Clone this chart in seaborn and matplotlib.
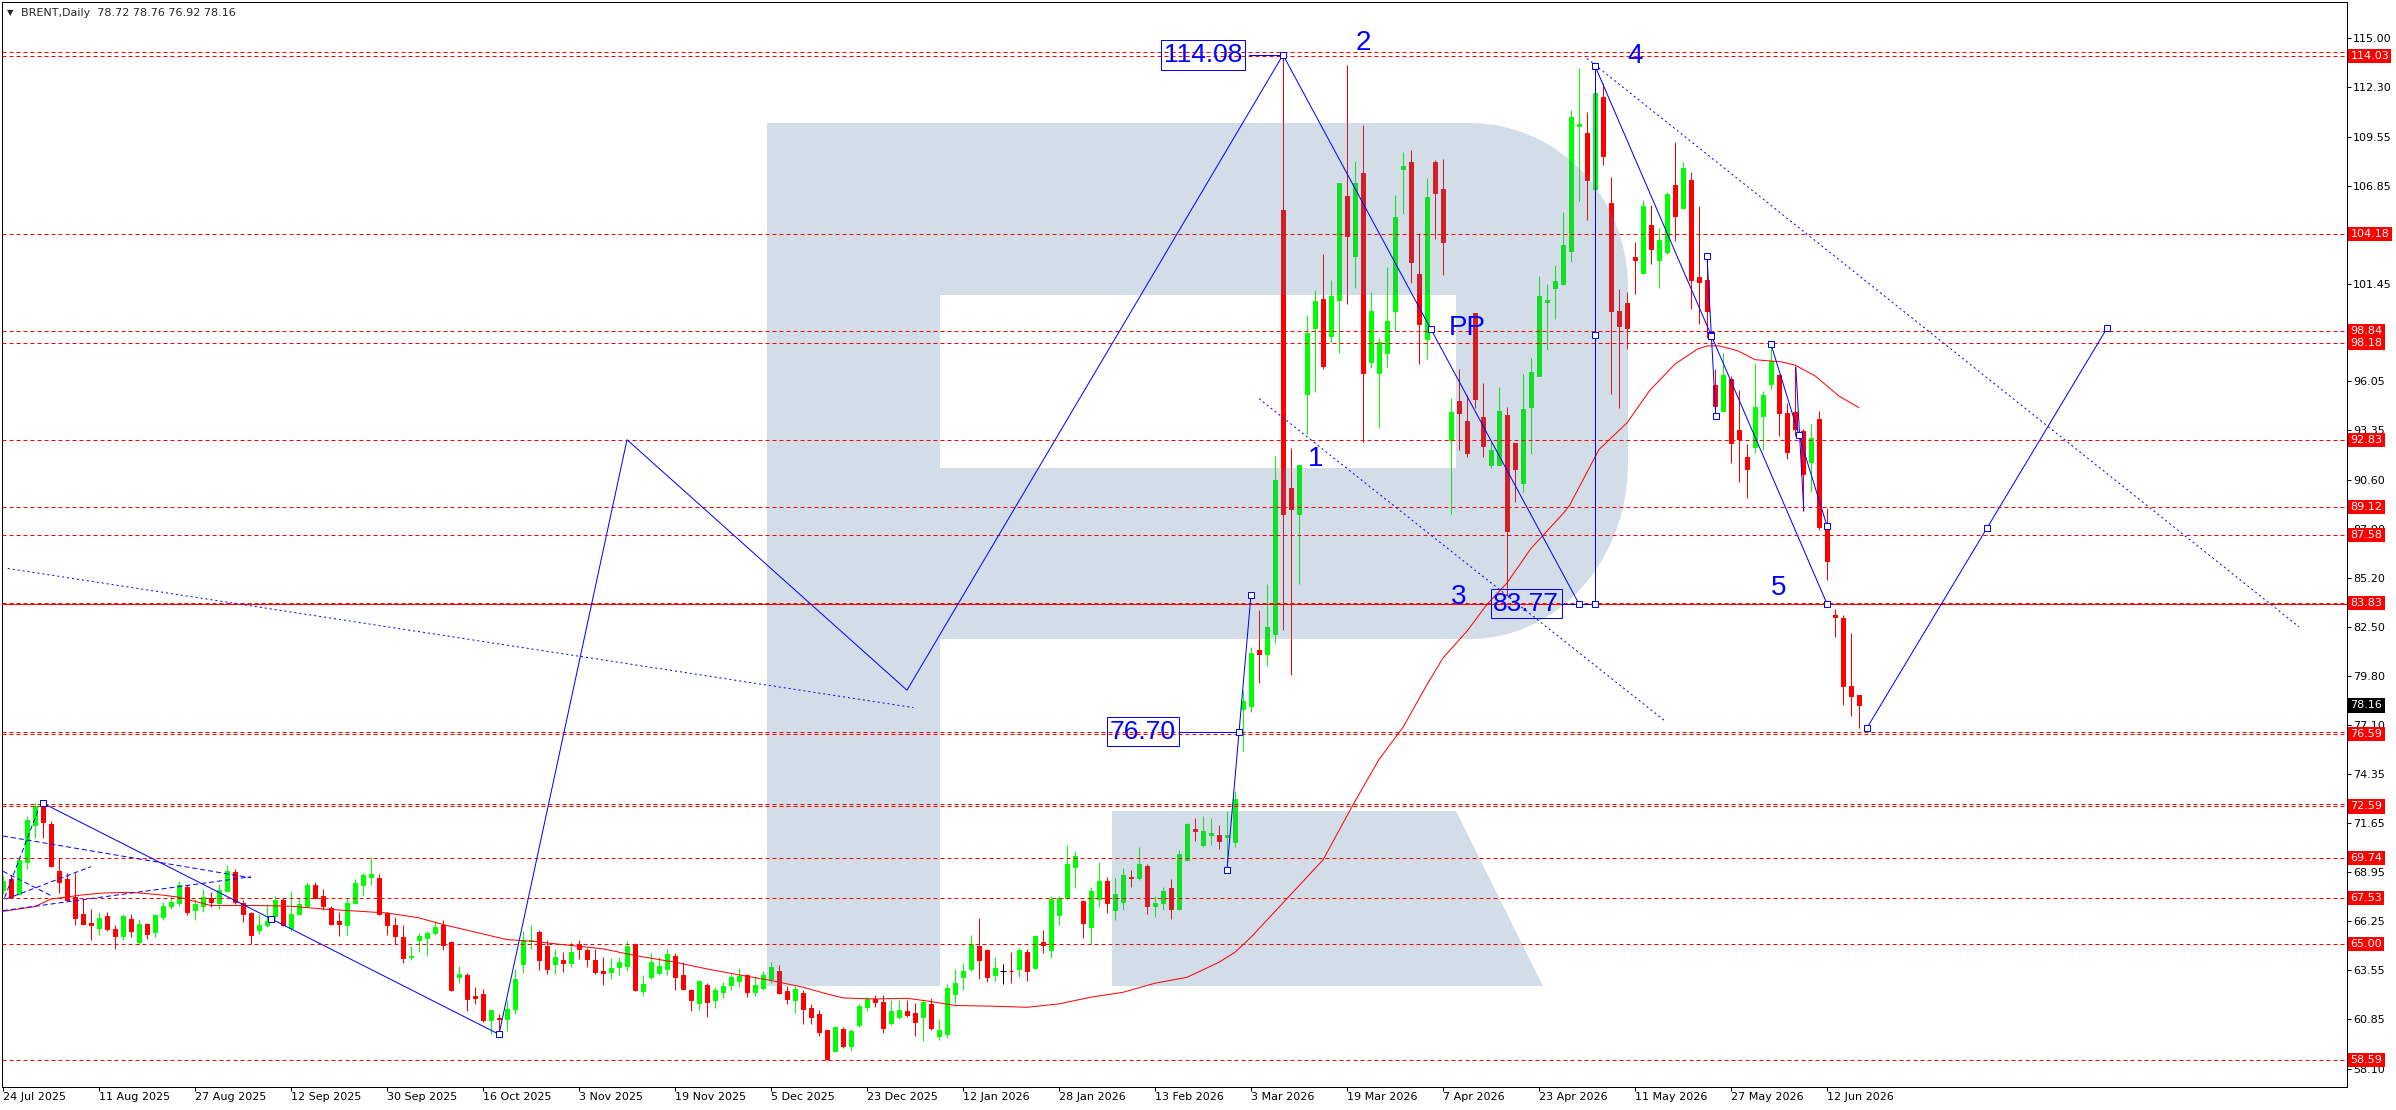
import matplotlib
matplotlib.use("Agg")
import matplotlib.pyplot as plt
import matplotlib.transforms as mtransforms
from matplotlib.path import Path
from matplotlib.patches import PathPatch
import numpy as np
import pandas as pd
import seaborn as sns

# ---- daily OHLC, bar 0 = 24 Jul 2025 ----
opens = [
    67.98, 68.55, 67.76, 69.51, 71.53, 72.73, 71.62, 68.99, 68.59, 67.57,
    66.65, 66.14, 65.88, 66.51, 65.82, 65.42, 66.37, 65.09, 66.10, 65.64,
    66.47, 67.08, 67.24, 68.16, 66.84, 67.06, 67.52, 67.24, 67.94, 68.94,
    67.26, 66.69, 65.77, 66.05, 66.51, 67.43, 65.86, 66.62, 67.11, 68.27,
    67.61, 66.97, 66.28, 66.01, 67.26, 68.22, 68.71, 68.62, 66.69, 66.06,
    65.40, 64.26, 65.18, 65.33, 65.58, 66.06, 65.09, 63.16, 63.25, 62.09,
    62.24, 60.80, 60.91, 60.85, 61.39, 63.89, 65.14, 65.64, 64.85, 63.89,
    64.11, 63.93, 64.96, 64.67, 64.11, 63.47, 63.43, 63.71, 63.76, 65.00,
    62.38, 63.16, 63.37, 63.62, 64.35, 63.25, 62.47, 61.74, 62.70, 61.90,
    62.33, 62.70, 62.94, 63.25, 62.33, 62.55, 63.06, 63.52, 62.38, 61.90,
    62.27, 61.44, 61.13, 60.21, 59.10, 60.32, 59.38, 60.49, 61.50, 61.96,
    61.78, 60.62, 60.98, 61.26, 61.17, 60.98, 61.65, 59.93, 60.03, 62.20,
    63.19, 63.58, 64.90, 64.63, 63.25, 63.47, 63.52, 63.58, 64.54, 63.67,
    65.09, 64.68, 66.56, 67.54, 69.23, 67.35, 65.92, 67.48, 68.44, 66.84,
    67.30, 68.68, 68.64, 69.27, 67.08, 67.24, 68.07, 66.91, 69.63, 71.35,
    70.48, 71.03, 71.03, 70.92, 70.61, 77.98, 78.13, 81.23, 80.99, 82.11,
    105.51, 90.17, 88.75, 95.33, 99.02, 100.58, 98.54, 100.55, 106.30, 102.97,
    107.57, 97.13, 96.54, 97.60, 99.96, 107.78, 108.16, 101.97, 98.37, 108.16,
    106.69, 92.82, 94.95, 93.85, 99.81, 94.06, 91.46, 91.46, 94.21, 92.64,
    90.46, 94.65, 96.33, 100.46, 101.20, 101.44, 103.26, 110.14, 109.75, 106.66,
    111.76, 105.92, 99.96, 100.40, 102.91, 102.03, 104.68, 102.76, 103.20, 106.89,
    105.65, 107.19, 101.79, 101.64, 95.83, 94.44, 96.21, 93.38, 91.85, 92.44,
    94.15, 95.89, 96.42, 94.30, 94.35, 93.32, 91.61, 93.97, 88.01, 83.15,
    83.00, 79.22, 78.72,
]
highs = [
    68.77, 68.77, 69.78, 72.08, 72.76, 72.76, 71.77, 69.74, 68.90, 68.90,
    67.46, 66.93, 66.75, 66.75, 66.05, 66.62, 66.62, 66.37, 66.14, 66.65,
    67.30, 67.61, 68.49, 68.22, 67.48, 68.03, 67.85, 68.31, 69.36, 69.12,
    67.39, 66.75, 66.65, 67.21, 67.61, 67.52, 67.89, 67.54, 68.40, 68.40,
    68.03, 67.11, 66.75, 67.54, 68.59, 68.90, 69.78, 68.86, 66.78, 66.47,
    66.05, 64.90, 65.57, 65.69, 66.25, 66.32, 65.13, 63.75, 63.39, 62.60,
    62.51, 61.32, 61.13, 61.87, 63.58, 65.73, 66.01, 65.77, 65.18, 64.72,
    64.54, 65.09, 65.18, 64.78, 64.72, 64.26, 64.22, 64.26, 65.13, 65.03,
    63.25, 64.50, 64.26, 64.72, 64.48, 63.98, 62.51, 63.01, 62.83, 62.60,
    62.88, 63.34, 63.67, 63.34, 63.16, 63.52, 63.98, 63.80, 62.64, 62.64,
    62.45, 61.65, 61.32, 60.25, 60.43, 60.43, 60.30, 61.65, 62.05, 62.18,
    62.18, 61.87, 61.87, 61.90, 61.72, 61.87, 62.01, 60.85, 62.79, 63.62,
    63.93, 65.49, 66.41, 64.72, 64.26, 63.89, 64.54, 64.78, 64.72, 65.49,
    65.77, 67.61, 67.61, 70.48, 70.11, 67.39, 68.13, 69.54, 68.71, 68.64,
    69.17, 69.08, 70.33, 69.41, 67.61, 68.13, 68.59, 70.20, 71.66, 71.93,
    72.08, 71.93, 71.53, 72.32, 73.46, 79.01, 81.38, 83.44, 84.86, 91.94,
    114.08, 92.38, 91.46, 99.72, 101.08, 103.06, 101.64, 106.98, 113.53, 108.22,
    110.22, 100.99, 98.43, 102.38, 106.36, 108.72, 108.81, 104.24, 107.28, 108.28,
    108.31, 95.15, 96.72, 95.30, 99.81, 95.98, 92.73, 95.74, 94.65, 92.64,
    96.48, 97.36, 101.85, 101.44, 102.47, 105.42, 111.02, 113.38, 110.93, 113.47,
    112.50, 107.34, 101.14, 100.99, 103.73, 106.09, 105.77, 104.53, 106.51, 109.25,
    108.16, 107.63, 105.71, 102.97, 96.72, 97.60, 96.36, 95.59, 92.59, 97.07,
    95.53, 98.04, 96.48, 94.86, 96.86, 93.41, 93.68, 94.41, 89.05, 83.50,
    83.15, 82.17, 78.76,
]
lows = [
    67.76, 67.54, 67.76, 69.14, 70.85, 70.85, 69.23, 67.79, 67.39, 66.05,
    66.01, 65.22, 65.49, 65.69, 64.72, 65.18, 65.37, 64.94, 65.27, 65.37,
    66.32, 66.91, 67.11, 66.56, 66.32, 66.75, 67.02, 66.93, 67.89, 67.21,
    66.19, 64.96, 65.55, 65.92, 66.36, 65.97, 65.73, 66.56, 67.02, 67.48,
    66.84, 66.01, 65.42, 65.51, 67.21, 67.61, 68.22, 66.60, 65.51, 65.00,
    63.95, 64.08, 64.57, 64.35, 65.51, 64.67, 62.38, 62.83, 61.28, 61.68,
    60.67, 59.99, 60.03, 60.17, 61.13, 63.37, 64.72, 63.56, 63.34, 63.34,
    63.43, 63.71, 64.17, 63.71, 63.34, 62.70, 63.06, 63.25, 63.49, 62.38,
    62.14, 63.06, 63.25, 63.25, 62.47, 62.42, 61.28, 61.35, 60.94, 61.46,
    61.99, 62.45, 62.60, 62.05, 62.11, 62.42, 62.83, 62.20, 61.65, 61.17,
    60.58, 60.58, 59.93, 58.59, 59.05, 59.25, 59.07, 60.39, 61.28, 61.50,
    60.06, 60.54, 60.85, 60.94, 59.88, 59.62, 60.25, 59.70, 59.81, 61.65,
    62.42, 63.49, 63.06, 62.88, 62.94, 62.75, 62.83, 63.16, 62.97, 63.62,
    64.48, 64.21, 66.06, 67.43, 68.09, 65.33, 65.00, 67.02, 66.69, 66.32,
    66.84, 68.13, 68.53, 66.62, 66.47, 66.84, 66.34, 66.87, 69.56, 70.65,
    70.33, 70.43, 70.24, 69.15, 70.33, 75.62, 77.78, 79.37, 80.34, 81.61,
    82.32, 79.84, 84.86, 93.12, 95.47, 96.72, 98.25, 97.60, 100.34, 101.23,
    92.73, 96.77, 93.47, 96.86, 98.84, 105.27, 101.49, 97.01, 97.30, 103.91,
    101.91, 88.75, 92.29, 91.85, 94.59, 91.85, 91.26, 91.46, 84.18, 89.40,
    89.93, 92.05, 96.33, 97.81, 99.49, 101.38, 102.67, 106.01, 104.97, 106.66,
    107.98, 95.33, 94.59, 97.84, 100.85, 102.03, 102.53, 101.20, 103.06, 103.79,
    105.62, 100.05, 99.22, 98.43, 94.12, 94.44, 91.55, 90.52, 89.64, 92.08,
    92.29, 95.62, 93.03, 91.76, 93.03, 88.90, 89.93, 87.87, 85.06, 81.91,
    78.19, 77.60, 76.92,
]
closes = [
    68.49, 67.57, 69.65, 71.84, 72.63, 71.71, 69.32, 68.40, 67.43, 66.43,
    66.10, 66.05, 66.43, 65.82, 65.42, 66.51, 65.69, 66.10, 65.55, 66.56,
    67.11, 67.33, 68.22, 66.73, 67.21, 67.57, 67.30, 67.98, 68.99, 67.33,
    66.65, 65.49, 66.06, 66.28, 67.39, 66.01, 66.62, 67.21, 68.22, 67.54,
    67.11, 66.10, 66.10, 67.26, 68.37, 68.81, 68.86, 66.65, 66.06, 65.42,
    64.21, 64.35, 65.44, 65.58, 65.95, 64.94, 62.45, 63.34, 61.96, 61.99,
    60.80, 61.32, 60.85, 61.41, 63.03, 65.22, 65.22, 64.11, 63.62, 64.26,
    63.93, 64.54, 64.72, 64.17, 63.43, 63.41, 63.67, 63.97, 64.90, 62.42,
    62.75, 63.97, 63.75, 64.44, 63.19, 62.49, 61.90, 62.94, 61.78, 62.42,
    62.64, 63.16, 63.21, 62.33, 62.70, 63.25, 63.71, 62.27, 61.96, 62.49,
    61.41, 60.98, 60.12, 58.61, 60.39, 59.38, 60.16, 61.54, 61.96, 61.78,
    60.34, 61.28, 61.32, 61.04, 60.67, 61.78, 60.34, 60.21, 62.57, 62.83,
    63.52, 65.00, 64.08, 63.16, 63.67, 63.47, 63.49, 64.67, 63.49, 65.42,
    64.94, 67.46, 67.54, 69.38, 69.82, 66.14, 67.94, 68.44, 67.24, 67.72,
    68.77, 68.62, 69.41, 67.11, 67.24, 67.94, 66.91, 69.97, 71.59, 71.22,
    71.20, 71.14, 70.70, 70.99, 73.00, 78.43, 81.08, 81.02, 82.47, 90.58,
    88.75, 88.99, 91.46, 98.72, 100.49, 96.92, 100.79, 106.98, 104.09, 106.98,
    96.54, 99.96, 98.25, 99.37, 105.12, 107.93, 102.62, 99.22, 106.24, 106.45,
    103.73, 94.35, 94.30, 92.08, 95.06, 92.50, 92.29, 94.44, 87.81, 91.20,
    94.50, 96.57, 100.79, 100.55, 101.58, 103.56, 110.64, 110.28, 107.19, 111.97,
    108.51, 99.96, 99.13, 99.02, 102.76, 105.71, 103.35, 103.88, 106.39, 105.21,
    107.84, 101.67, 101.52, 99.96, 94.71, 96.42, 92.67, 92.88, 91.20, 94.65,
    95.30, 97.16, 94.30, 92.14, 93.41, 90.96, 92.94, 88.01, 86.15, 83.06,
    79.25, 78.66, 78.16,
]

# moving average (bar index, price)
ma_bars = [0, 4, 6, 10, 12.5, 16, 19.5, 22, 26, 29, 32, 36, 40, 45, 48, 52, 55, 60,
           63, 66, 70, 75, 79, 84, 88, 92, 96, 100, 103, 105, 109, 113, 116, 119,
           124, 128, 132, 136, 140, 144, 148, 150, 152, 154, 156, 165, 168.75, 172,
           175, 178, 180, 183, 185.5, 188, 191, 195, 195.8, 199.5, 203, 205.8, 209,
           211.8, 213, 214.5, 216.8, 219, 222.3, 224, 226.5, 229.5, 232]
ma_vals = [66.79, 67.05, 67.47, 67.70, 67.80, 67.84, 67.71, 67.57, 67.11, 67.11,
           67.11, 67.07, 66.92, 66.78, 66.70, 66.43, 66.06, 65.54, 65.23, 65.14,
           64.95, 64.72, 64.35, 63.98, 63.61, 63.28, 62.97, 62.60, 62.23, 62.01,
           61.95, 61.99, 61.81, 61.59, 61.55, 61.49, 61.68, 62.05, 62.32, 62.82,
           63.15, 63.56, 63.98, 64.53, 65.36, 69.63, 72.67, 75.18, 76.95, 79.31,
           80.78, 82.26, 83.74, 84.92, 86.83, 88.75, 89.19, 92.29, 93.76, 95.53,
           97.01, 97.83, 98.01, 98.01, 97.75, 97.25, 97.13, 96.95, 96.36, 95.24,
           94.60]

date_labels = ["24 Jul 2025", "11 Aug 2025", "27 Aug 2025", "12 Sep 2025", "30 Sep 2025",
               "16 Oct 2025", "3 Nov 2025", "19 Nov 2025", "5 Dec 2025", "23 Dec 2025",
               "12 Jan 2026", "28 Jan 2026", "13 Feb 2026", "3 Mar 2026", "19 Mar 2026",
               "7 Apr 2026", "23 Apr 2026", "11 May 2026", "27 May 2026", "12 Jun 2026"]
date_bars = [0, 12, 24, 36, 48, 60, 72, 84, 96, 108, 120, 132, 144, 156, 168, 180,
             192, 204, 216, 228]
ytick_vals = [115.00, 112.30, 109.55, 106.85, 104.15, 101.45, 98.75, 96.05, 93.35, 90.60,
              87.90, 85.20, 82.50, 79.80, 77.10, 74.35, 71.65, 68.95, 66.25, 63.55,
              60.85, 58.10]

level_prices = [114.03, 104.18, 98.84, 98.18, 92.83, 89.12, 87.58, 83.83, 76.59, 72.59,
                69.74, 67.53, 65.00, 58.59]
extra_levels = [114.22, 76.71, 72.73]
solid_level = 83.75
last_price = 78.16
header = "BRENT,Daily  78.72 78.76 76.92 78.16"

# wave drawing (bar, price)
zig_bars = [62, 78, 113, 160]
zig_prices = [60.00, 92.83, 79.00, 114.08]
# trend lines shown selected (end + middle squares): bar1, price1, bar2, price2
sel_lines = [(5, 72.76, 62, 60.00), (153, 69.08, 156, 84.27), (160, 114.08, 197, 83.77),
             (199, 83.77, 199, 113.47), (199, 113.47, 228, 83.77), (213, 102.97, 214.1, 94.12),
             (221, 98.10, 228, 88.07), (233, 76.92, 263, 98.99)]
plain_lines = [(224.1, 96.86, 225.1, 88.90)]
dotted_lines = [(157, 95.10, 207.75, 77.30), (198, 113.88, 287, 82.50), (0.6, 85.72, 113.8, 78.04)]
dashed_lines = [(0, 70.95, 31, 68.64), (0, 66.83, 31, 68.70), (0, 69.00, 6, 67.66),
                (0.4, 67.47, 11, 69.26), (0.2, 67.55, 4.5, 72.50)]
box_labels = [("114.08", 150.0, 114.08, 155.8, 160), ("76.70", 142.5, 76.70, 147.1, 154.5),
              ("83.77", 190.4, 83.77, 194.75, 199)]
wave_labels = [("1", 164.1, 91.75), ("2", 170.0, 114.75), ("3", 182.0, 84.12),
               ("4", 204.0, 114.0), ("5", 222.0, 84.65), ("PP", 183.0, 99.0)]

W, H = 2396, 1110
PX = 0.72  # one pixel in points at dpi 100
BLUE = "#0000FF"
RED = "#FF0000"

sns.set_style("white")
plt.rcParams["font.family"] = ["DejaVu Sans"]

fig = plt.figure(figsize=(W / 100, H / 100), dpi=100)
ax = fig.add_axes([2 / W, 1 - 1087 / H, 2345 / W, 1085 / H])
ax.set_xlim(-0.125, 293.0)
ax.set_ylim(57.09, 117.0)

# candles
df = pd.DataFrame({"o": opens, "h": highs, "l": lows, "c": closes})
df["bar"] = np.arange(len(df))
up = df.c > df.o
flat = df.c == df.o
col = np.where(up, "#00FF00", np.where(flat, "black", RED))
ax.vlines(df.bar, df.l, df.h, colors=col, lw=PX, zorder=2)
b = df[~flat]
ax.bar(b.bar, (b.c - b.o).abs(), bottom=np.minimum(b.o, b.c), width=0.5,
       color=col[~flat], edgecolor=col[~flat], linewidth=PX, zorder=2)
ax.hlines(df.c[flat], df.bar[flat] - 0.35, df.bar[flat] + 0.35, colors="black", lw=PX, zorder=2)

# watermark logo, drawn over the candles
def fpt(x, y):
    return (x / W, 1 - y / H)

t1 = np.linspace(np.pi / 2, 0, 20)
t2 = np.linspace(0, -np.pi / 2, 20)
outer = [(767, 123), (1470, 123)]
outer += [(1470 + 158 * np.cos(t), 287 - 164 * np.sin(t)) for t in t1]
outer += [(1470 + 158 * np.cos(t), 464 - 175 * np.sin(t)) for t in t2]
outer += [(940, 639), (940, 986), (767, 986), (767, 123)]
hole = [(940, 295), (940, 468), (1456, 468), (1456, 295), (940, 295)]
leg = [(1112, 811), (1112, 986), (1543, 986), (1456, 811), (1112, 811)]
verts, codes = [], []
for poly in (outer, hole, leg):
    verts += [fpt(*p) for p in poly]
    codes += [Path.MOVETO] + [Path.LINETO] * (len(poly) - 2) + [Path.CLOSEPOLY]
logo = PathPatch(Path(verts, codes), transform=fig.transFigure, facecolor="#4F78A4",
                 edgecolor="none", alpha=0.25, zorder=3)
ax.add_patch(logo)
logo.set_clip_path(ax.patch)

# horizontal levels
dash = (0, (4, 3))
for p in level_prices + extra_levels:
    ax.axhline(p, color=RED, lw=PX, ls=dash, zorder=4)
ax.axhline(solid_level, color=RED, lw=PX, zorder=4)

sns.lineplot(x=ma_bars, y=ma_vals, ax=ax, color=RED, lw=PX, estimator=None, sort=False, zorder=4)

# blue drawings
ax.plot(zig_bars, zig_prices, color=BLUE, lw=PX, zorder=5)
for x1, y1, x2, y2 in sel_lines:
    ax.plot([x1, x2], [y1, y2], color=BLUE, lw=PX, zorder=5)
    ax.plot([x1, (x1 + x2) / 2, x2], [y1, (y1 + y2) / 2, y2], ls="none", marker="s", ms=4,
            mfc="white", mec=BLUE, mew=PX, zorder=6)
for x1, y1, x2, y2 in plain_lines:
    ax.plot([x1, x2], [y1, y2], color=BLUE, lw=PX, zorder=5)
for x1, y1, x2, y2 in dotted_lines:
    ax.plot([x1, x2], [y1, y2], color=BLUE, lw=PX, ls=(0, (2, 3)), zorder=5)
for x1, y1, x2, y2 in dashed_lines:
    ax.plot([x1, x2], [y1, y2], color=BLUE, lw=PX, ls=(0, (5, 3)), zorder=5)

for txt, xb, yp, x_from, x_to in box_labels:
    ax.plot([x_from, x_to], [yp, yp], color=BLUE, lw=PX, zorder=5)
    ax.text(xb, yp, txt, color=BLUE, fontsize=19, family="Liberation Sans", ha="center",
            va="center", zorder=7,
            bbox=dict(boxstyle="square,pad=0.1", fc="none", ec=BLUE, lw=PX))
for txt, xb, yp in wave_labels:
    ax.text(xb, yp, txt, color=BLUE, fontsize=20, family="Liberation Sans", ha="center",
            va="center", zorder=7)

# axes look
for s in ax.spines.values():
    s.set_color("black")
    s.set_linewidth(PX)
ax.yaxis.tick_right()
ax.set_yticks(ytick_vals)
ax.set_yticklabels([f"{v:.2f}" for v in ytick_vals])
ax.tick_params(axis="y", right=True, left=False, labelright=True, labelleft=False,
               direction="out", length=3, width=PX, pad=1.5, labelsize=8, colors="black")
ax.set_xticks(date_bars)
ax.set_xticklabels(date_labels, ha="left")
ax.tick_params(axis="x", bottom=True, direction="out", length=3, width=PX, pad=0.5,
               labelsize=8, colors="black")
ax.set_xlabel("")
ax.set_ylabel("")

# price labels on the scale
ytr = mtransforms.blended_transform_factory(ax.transAxes, ax.transData)
xlab = (2350.5 - 2) / 2345
for p in level_prices:
    ax.text(xlab, p, f"{p:.2f}", transform=ytr, color="white", fontsize=8, ha="left",
            va="center", clip_on=False, zorder=10,
            bbox=dict(boxstyle="square,pad=0.2", fc=RED, ec="none"))
ax.text(xlab, last_price, f"{last_price:.2f}", transform=ytr, color="white", fontsize=8,
        ha="left", va="center", clip_on=False, zorder=10,
        bbox=dict(boxstyle="square,pad=0.2", fc="black", ec="none"))

fig.text(*fpt(7, 13), "\u25bc", fontsize=6, va="center", ha="left")
fig.text(*fpt(21, 13), header, fontsize=8, va="center", ha="left")

fig.savefig("out.png", dpi=100)
